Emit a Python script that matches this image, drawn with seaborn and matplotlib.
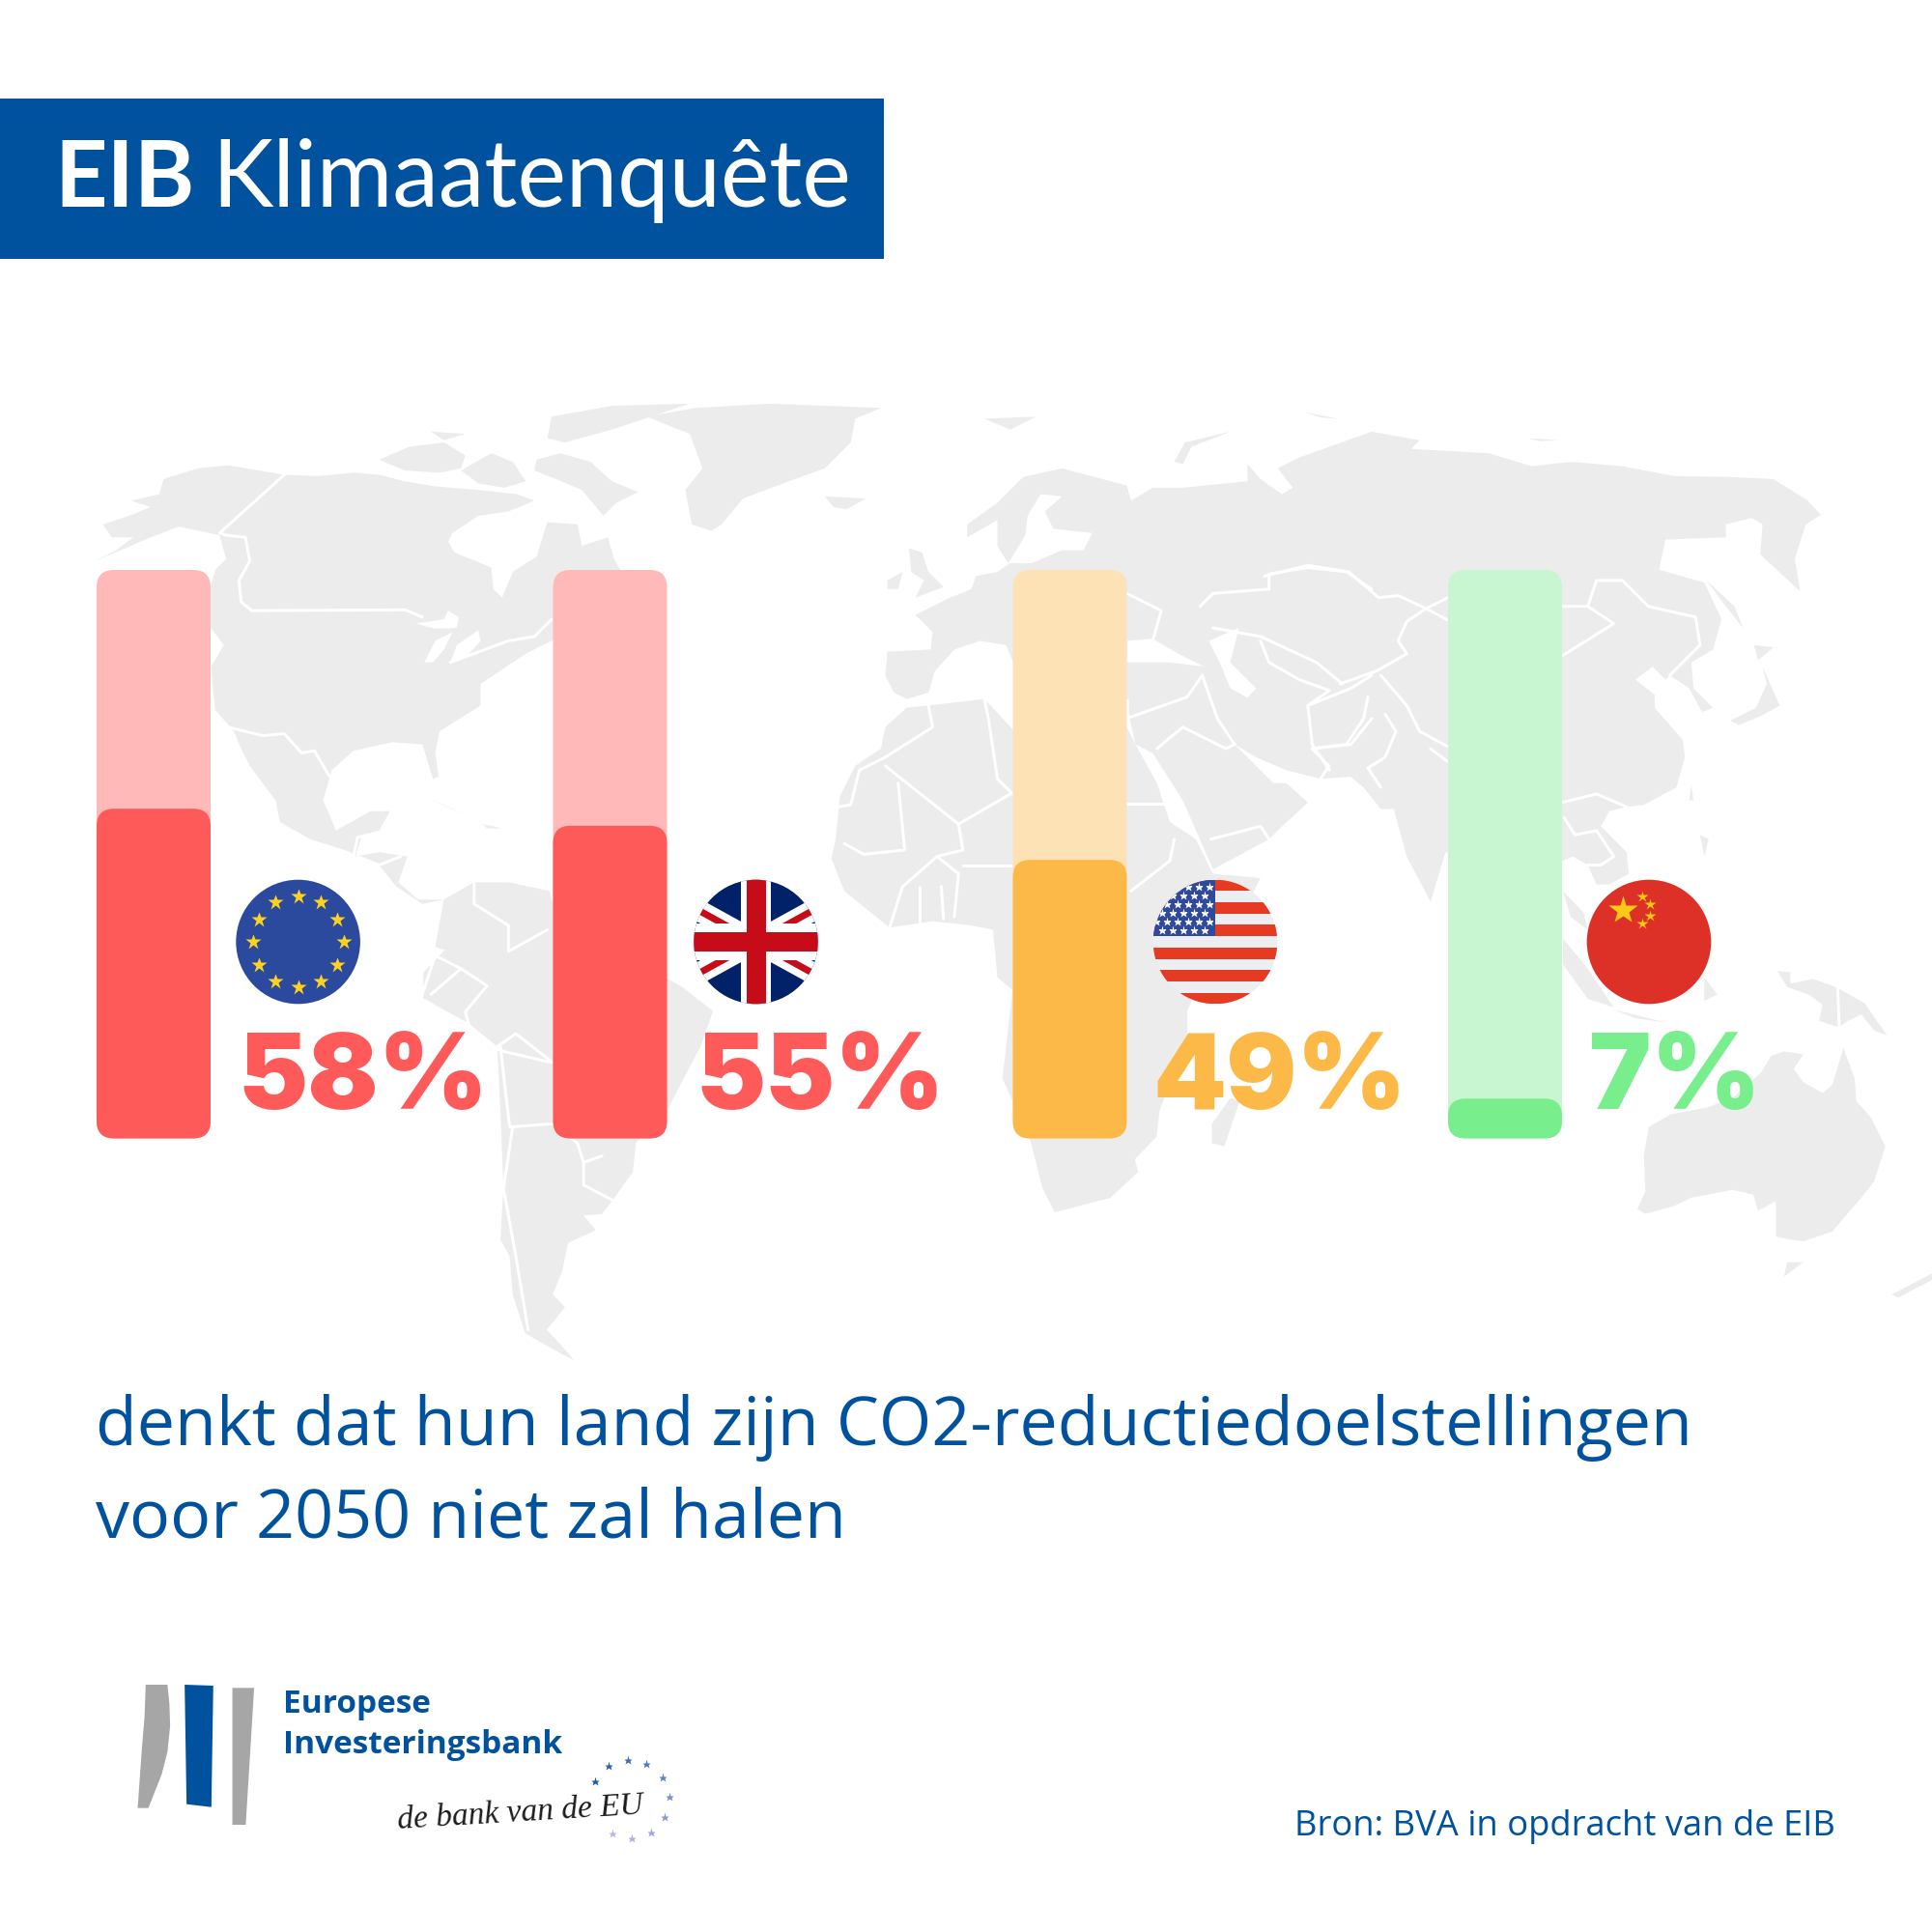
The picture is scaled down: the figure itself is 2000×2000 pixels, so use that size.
import numpy as np
import matplotlib
matplotlib.use('Agg')
import matplotlib.pyplot as plt
from matplotlib.patches import Circle, FancyBboxPatch, Polygon, Rectangle
import seaborn as sns

# Data
countries = ['EU', 'VK', 'VS', 'China']
values = [58, 55, 49, 7]
track = [100, 100, 100, 100]
value_colors = ['#ff5a5a', '#ff5a5a', '#fdb947', '#78ee8c']
track_colors = ['#ffb9b9', '#ffb9b9', '#fde2b6', '#c7f6d0']

title_bold = 'EIB'
title_rest = 'Klimaatenquête'
caption = ['denkt dat hun land zijn CO2-reductiedoelstellingen', 'voor 2050 niet zal halen']
source = 'Bron: BVA in opdracht van de EIB'

BLUE = '#00519e'
LAND = '#ececec'

# layout in pixels of the 2000x2000 image
bar_left = [100, 572.5, 1048.5, 1499]
bar_width = 118
bar_top, bar_bottom = 590, 1178.5
label_left = [247, 720, 1194, 1645]
flag_x = [308.6, 782.5, 1258, 1707]
flag_y = 975
flag_r = 64.3


def crop(pts, x0, y0, sx, sy=None):
    sy = sy or sx
    return [(x0 + x / sx, y0 + y / sy) for x, y in pts]

def z5(pts):
    return crop(pts, 80, 400, 2.24)

def z6(pts):
    return crop(pts, 720, 400, 2.24)

def z7(pts):
    return crop(pts, 1300, 400, 2.24)

def z8(pts):
    return crop(pts, 400, 950, 1.568, 3)

def z9(pts):
    return crop(pts, 1500, 950, 3)


north_america = z5([(40, 405), (100, 380), (170, 350), (235, 325), (330, 345), (345, 400), (320, 425), (300, 500),
                    (310, 560), (340, 600), (310, 650), (320, 755), (355, 790), (400, 880), (460, 960), (470, 1010),
                    (540, 1050), (620, 1075), (700, 1110), (740, 1160), (800, 1200), (850, 1190), (790, 1190),
                    (745, 1150), (765, 1090), (700, 1080), (645, 1090), (660, 1040), (700, 1030), (725, 985),
                    (680, 985), (600, 1030), (570, 960), (590, 890), (640, 845), (730, 825), (800, 830), (825, 910),
                    (838, 905), (830, 850), (840, 800), (935, 740), (935, 690), (980, 660), (1040, 620), (1100, 590),
                    (1200, 600), (1300, 500), (1245, 400), (1230, 350), (1170, 370), (1160, 320), (1090, 315),
                    (1065, 395), (1010, 430), (985, 490), (965, 470), (960, 420), (875, 385), (860, 360), (870, 340),
                    (930, 300), (1000, 290), (1060, 265), (1020, 250), (930, 240), (830, 232), (760, 220), (700, 205),
                    (640, 200), (560, 208), (480, 205), (350, 183), (280, 190), (200, 215), (190, 250), (125, 265),
                    (170, 280), (120, 300), (60, 320), (80, 350), (130, 350), (90, 380)])

greenland = z5([(1320, 70), (1420, 110), (1450, 190), (1410, 240), (1425, 320), (1470, 335)]) + \
    z6([(60, 320), (110, 260), (230, 215), (300, 190), (360, 130), (370, 75), (430, 50), (170, 40), (0, 50)])

eurasia = z6([(445, 615), (545, 610), (550, 570), (510, 530), (590, 490), (640, 470), (650, 440), (700, 430),
              (730, 410), (780, 410), (850, 380), (900, 380), (920, 340), (830, 330), (810, 290), (850, 255),
              (800, 250), (770, 300), (765, 345), (725, 410), (700, 370), (700, 310), (630, 350), (630, 320),
              (700, 270), (760, 210), (850, 190), (1000, 230), (1010, 265), (1060, 235), (1130, 235), (1280, 220),
              (1280, 180), (1310, 215), (1360, 250), (1385, 235), (1350, 190), (1400, 165), (1470, 140),
              (1568, 105)]) + \
    z7([(380, 125), (360, 145), (540, 155), (640, 185), (730, 175), (850, 185), (970, 208), (1100, 210), (1200, 215),
        (1280, 265), (1310, 298), (1275, 320), (1250, 400), (1262, 475), (1170, 390), (1175, 320), (1150, 305),
        (1090, 320), (1090, 350), (950, 355), (935, 425), (1040, 455), (1080, 540), (1060, 610), (1010, 640),
        (1015, 700), (1060, 745), (1035, 755), (1005, 700), (960, 670), (950, 680), (920, 650), (880, 680),
        (925, 715), (925, 745), (990, 820), (995, 860), (975, 930), (900, 970), (860, 975), (820, 985), (800, 1020),
        (860, 1080), (865, 1130), (820, 1155), (790, 1155), (770, 1110), (735, 1090), (712, 1100), (600, 1100),
        (440, 1080), (405, 1195), (350, 1090), (320, 980), (290, 980), (250, 930), (220, 905), (150, 910)]) + \
    z6([(1370, 890), (1300, 860), (1250, 830), (1300, 880), (1340, 920), (1370, 920), (1420, 965), (1360, 1020),
        (1330, 1050), (1200, 1120), (1130, 960), (1060, 850), (1020, 830), (1005, 760), (1005, 725), (900, 720),
        (737, 640), (720, 600), (660, 590), (600, 610), (555, 660), (540, 710), (490, 725), (460, 710), (440, 670)])

africa = z6([(490, 745), (540, 740), (670, 725), (740, 800), (1000, 790), (1020, 830), (1070, 920), (1100, 1010),
             (1160, 1050), (1200, 1130), (1310, 1140), (1270, 1220), (1190, 1330)]) + \
    z8([(1300, 290), (1300, 370), (1255, 600), (1250, 680), (1215, 750), (1220, 790), (1175, 870), (1085, 915),
        (1065, 840), (1045, 690), (1000, 500)]) + \
    z6([(735, 1400), (700, 1370), (690, 1260), (640, 1250), (550, 1240), (450, 1255), (345, 1170), (315, 1095),
        (325, 1050), (335, 950), (370, 880), (430, 840), (440, 790)])

south_america = z5([(830, 1300), (850, 1190), (920, 1150), (1000, 1150), (1095, 1170), (1110, 1230)]) + \
    z8([(480, 215), (530, 290), (510, 400), (455, 600), (405, 700), (400, 790), (370, 870), (350, 920), (320, 925),
        (340, 970), (295, 1010), (285, 1100), (270, 1170), (290, 1210), (260, 1280), (280, 1320), (305, 1375),
        (270, 1340), (225, 1290), (205, 1170), (200, 1050), (185, 1000), (190, 840), (185, 600), (180, 400),
        (135, 330), (60, 250), (60, 170), (95, 100)])

australia = z9([(970, 480), (1000, 430), (1040, 415), (1100, 425), (1070, 470), (1100, 510), (1160, 545), (1190, 520),
                (1225, 405), (1260, 500), (1265, 570), (1310, 620), (1355, 710), (1320, 820), (1280, 870), (1190, 975),
                (1100, 1005), (1060, 1000), (1015, 990), (1015, 880), (960, 910), (945, 860), (880, 845), (750, 870),
                (700, 895), (610, 920), (585, 905), (610, 850), (605, 740), (620, 650), (690, 610), (800, 590),
                (880, 560)])

islands = [
    z5([(1065, 170), (1120, 155), (1190, 175), (1240, 220), (1300, 245), (1250, 270), (1220, 300), (1170, 240),
        (1110, 215), (1060, 195)]),
    z5([(700, 170), (770, 140), (850, 130), (900, 160), (890, 190), (840, 200), (760, 195)]),
    z5([(890, 195), (960, 155), (1010, 175), (1040, 220), (990, 235), (930, 225)]),
    z5([(1100, 70), (1240, 45), (1420, 40), (1330, 70), (1240, 100), (1130, 130), (1090, 120)]),
    z5([(820, 105), (900, 110), (850, 125)]),
    z5([(815, 955), (900, 995), (850, 970)]),
    z5([(940, 1015), (985, 1025), (950, 1025)]),
    z6([(300, 255), (395, 260), (350, 285), (320, 280)]),
    z6([(495, 375), (525, 385), (540, 430), (575, 465), (510, 490), (530, 450), (500, 430)]),
    z6([(445, 450), (480, 430), (470, 470), (445, 470)]),
    z6([(1110, 175), (1135, 130), (1240, 105), (1150, 140), (1130, 180)]),
    z6([(670, 75), (790, 70), (730, 100)]),
    z7([(115, 60), (190, 75), (150, 72)]),
    z7([(630, 120), (700, 125), (660, 127)]),
    z7([(1100, 775), (1160, 745), (1185, 690), (1175, 650), (1215, 740), (1170, 765), (1120, 785)]),
    z7([(1155, 600), (1200, 605), (1165, 635)]),
    z7([(1045, 450), (1110, 510), (1130, 560), (1090, 510)]),
    z7([(1010, 925), (1015, 960), (1005, 960)]),
    z7([(1030, 1040), (1050, 1050), (1040, 1090)]),
    z7([(712, 1170), (760, 1220), (770, 1260), (730, 1230)]),
    z7([(712, 1280), (770, 1350), (830, 1440), (770, 1420), (712, 1340)]),
    z7([(830, 1445), (950, 1475), (880, 1465)]),
    z7([(1040, 1370), (1070, 1410), (1040, 1425)]),
    z9([(1020, 165), (1060, 170), (1060, 205), (1130, 190), (1200, 215), (1290, 265), (1360, 365), (1320, 350),
        (1280, 300), (1240, 320), (1210, 340), (1150, 320), (1160, 270), (1120, 240), (1050, 215)]),
    z9([(1050, 1070), (1100, 1070), (1040, 1115)]),
    z9([(1375, 1170), (1500, 1105), (1500, 1125), (1395, 1180)]),
    z8([(1370, 560), (1385, 570), (1360, 710), (1340, 700), (1340, 640)]),
]

inland_seas = [
    z5([(860, 520), (885, 535), (880, 560), (830, 562), (785, 550), (850, 540)]),
    z5([(805, 640), (830, 590), (870, 570), (850, 610), (825, 640)]),
    z5([(865, 640), (880, 600), (930, 565), (935, 590), (900, 630)]),
    z6([(1000, 590), (1060, 585), (1120, 620), (1180, 650), (1100, 640), (1000, 640)]),
    z6([(1190, 590), (1260, 560), (1240, 640), (1300, 700), (1280, 722), (1240, 700), (1220, 650)]),
]

borders = [
    z5([(480, 205), (330, 340), (345, 345), (390, 350), (400, 405), (375, 450), (380, 500), (405, 520), (760, 518),
        (800, 535)]),
    z5([(865, 640), (1000, 590), (1060, 580), (1100, 540)]),
    z5([(320, 755), (350, 790), (390, 800), (430, 810), (480, 805), (520, 850), (550, 845), (585, 905)]),
    z5([(360, 800), (395, 890), (410, 950)]),
    z5([(640, 1090), (650, 1045), (690, 1040)]),
    z5([(650, 1090), (700, 1110), (750, 1090)]),
    z5([(920, 1150), (920, 1200), (1000, 1250), (1000, 1310), (1090, 1260)]),
    z5([(830, 1320), (890, 1350), (950, 1390), (900, 1450), (910, 1490), (980, 1540), (1100, 1568)]),
    z5([(830, 1320), (800, 1410)]),
    z5([(890, 1350), (820, 1410)]),
    z8([(180, 400), (210, 360), (270, 450)]),
    z8([(185, 400), (200, 650), (270, 640), (310, 700), (320, 760), (350, 740)]),
    z8([(205, 650), (190, 840), (210, 1050), (230, 1280)]),
    z8([(320, 760), (320, 830), (370, 880)]),
    z6([(440, 880), (610, 1015), (730, 945)]),
    z6([(470, 920), (485, 1075), (390, 1085), (345, 1060)]),
    z6([(610, 1015), (620, 1075), (560, 1090), (480, 1160), (450, 1255)]),
    z6([(560, 1090), (610, 1130), (600, 1230)]),
    z6([(540, 740), (550, 790), (440, 860), (380, 890), (360, 970), (330, 975)]),
    z6([(670, 725), (680, 775), (700, 910), (735, 945)]),
    z6([(620, 1110), (735, 1110)]),
    z6([(520, 1160), (520, 1250)]),
    z6([(570, 1160), (575, 1235)]),
    z6([(1000, 968), (1090, 968)]),
    z6([(1110, 1050), (1100, 1100), (1010, 1170)]),
    z6([(1070, 840), (1130, 790), (1230, 840), (1250, 830)]),
    z6([(1175, 670), (1210, 770), (1250, 830)]),
    z6([(1000, 770), (1140, 720), (1175, 670)]),
    z6([(1330, 1050), (1310, 1020), (1195, 1050)]),
    z6([(1000, 480), (1080, 520), (1060, 590)]),
    z6([(1170, 510), (1200, 480), (1330, 470), (1330, 435), (1420, 420), (1510, 430), (1568, 470)]),
    z6([(1200, 560), (1310, 580), (1440, 640), (1500, 690)]),
    z6([(1310, 590), (1330, 640), (1400, 680), (1470, 705), (1420, 740), (1430, 830), (1470, 890)]),
    z6([(1420, 740), (1520, 700), (1568, 670)]),
    z6([(1430, 840), (1520, 830), (1568, 770)]),
    z7([(20, 440), (120, 415), (215, 430), (285, 490), (330, 485), (395, 515), (350, 545), (330, 590), (350, 620),
        (280, 660), (195, 690)]),
    z7([(395, 515), (445, 490)]),
    z7([(395, 515), (445, 542)]),
    z7([(290, 670), (350, 740), (380, 800), (445, 835)]),
    z7([(150, 910), (170, 880), (130, 840), (210, 830), (250, 770), (260, 720)]),
    z7([(300, 760), (325, 800), (300, 860), (260, 885), (290, 930)]),
    z7([(405, 840), (445, 870)]),
    z7([(710, 510), (770, 510), (790, 450), (850, 450), (910, 510), (1020, 535), (1030, 600), (1010, 620)]),
    z7([(710, 625), (750, 600), (830, 550), (770, 510)]),
    z7([(1010, 620), (960, 670)]),
    z7([(710, 965), (790, 945), (860, 975)]),
    z7([(715, 1000), (740, 1040), (790, 1030), (830, 1090), (800, 1110), (770, 1110)]),
    z9([(1207, 215), (1212, 340)]),
]

logo_left = crop([(78, 72), (135, 72), (140, 130), (142, 200), (135, 280), (120, 350), (100, 410), (85, 455), (57, 455),
                  (62, 370), (68, 270), (75, 170)], 120, 1720, 2.53, 3)
logo_mid = crop([(180, 72), (255, 75), (250, 452), (185, 443)], 120, 1720, 2.53, 3)
logo_right = crop([(305, 82), (362, 82), (340, 507), (305, 507)], 120, 1720, 2.53, 3)
logo_stars = crop([(1255, 372), (1290, 325), (1340, 305), (1390, 318), (1432, 360), (1450, 420), (1438, 483),
                   (1402, 530), (1352, 548), (1300, 535)], 120, 1720, 2.53, 3)
logo_star_colors = ['#1b5aa8', '#2a62ad', '#3a6cb2', '#4b78b8', '#5f82c0', '#7a8ecb', '#8c98d0', '#9ea4d6', '#adb0dc',
                    '#b8bae0']

sns.set_theme(style='white')
plt.rcParams['font.family'] = ['Open Sans', 'DejaVu Sans']

fig = plt.figure(figsize=(10, 10), dpi=200, facecolor='white')
canvas = fig.add_axes([0, 0, 1, 1])
canvas.set_xlim(0, 2000)
canvas.set_ylim(2000, 0)
canvas.axis('off')


def px(v):
    # pixels to points at this dpi
    return v * 72 / fig.dpi


# background map
for shape in [north_america, greenland, eurasia, africa, south_america, australia] + islands:
    canvas.add_patch(Polygon(shape, closed=True, fc=LAND, ec='none', zorder=1))
for shape in inland_seas:
    canvas.add_patch(Polygon(shape, closed=True, fc='white', ec='none', zorder=2))
for line in borders:
    xs, ys = zip(*line)
    canvas.plot(xs, ys, color='white', lw=px(3), solid_joinstyle='round', zorder=3)

# banner
canvas.add_patch(Rectangle((0, 102), 914.5, 166, fc=BLUE, ec='none', zorder=4))
canvas.text(56, 214, title_bold, color='white', fontsize=34.2, family='Lato', fontweight='bold', va='baseline', zorder=5)
canvas.text(219, 214, title_rest, color='white', fontsize=34.4, family='Lato', va='baseline', zorder=5)


# the bars, one small axes per country so that the value scale is 0-100 on each
def round_bars(ax, radius=18):
    # swap the square bars seaborn drew for rounded ones with the same geometry
    w_px = ax.get_position().width * fig.bbox.width
    h_px = ax.get_position().height * fig.bbox.height
    unit_x = (ax.get_xlim()[1] - ax.get_xlim()[0]) / w_px
    unit_y = (ax.get_ylim()[1] - ax.get_ylim()[0]) / h_px
    for bar in list(ax.patches):
        x, y, w, h = bar.get_x(), bar.get_y(), bar.get_width(), bar.get_height()
        color = bar.get_facecolor()
        bar.remove()
        ax.add_patch(FancyBboxPatch((x, y), w, h, boxstyle=f'round,pad=0,rounding_size={radius * unit_x}',
                                    mutation_aspect=unit_y / unit_x, fc=color, ec='none', clip_on=False))


for i, country in enumerate(countries):
    ax = fig.add_axes([bar_left[i] / 2000, 1 - bar_bottom / 2000, bar_width / 2000, (bar_bottom - bar_top) / 2000])
    sns.barplot(x=[country], y=[track[i]], color=track_colors[i], saturation=1, width=1, ax=ax)
    sns.barplot(x=[country], y=[values[i]], color=value_colors[i], saturation=1, width=1, ax=ax)
    ax.set_xlim(-0.5, 0.5)
    ax.set_ylim(0, 100)
    ax.axis('off')
    round_bars(ax)
    canvas.text(label_left[i], 1148, f'{values[i]}%', color=value_colors[i], fontsize=39, family='Inter',
                fontweight=900, va='baseline', zorder=6)


# flags
def flag_circle(i, color):
    c = Circle((flag_x[i], flag_y), flag_r, fc=color, ec='none', zorder=6)
    canvas.add_patch(c)
    return c


def stars(xs, ys, size, color, clip=None):
    line, = canvas.plot(xs, ys, ls='none', marker='*', ms=size, mfc=color, mec='none', zorder=8)
    if clip is not None:
        line.set_clip_path(clip)


# EU
flag_circle(0, '#2b4a9e')
angles = np.deg2rad(np.arange(0, 360, 30))
stars(flag_x[0] + 47 * np.sin(angles), flag_y - 47 * np.cos(angles), 6, '#ffd21f')

# UK
uk_x = flag_x[1]
clip = flag_circle(1, '#012169')
for sign in [0.55, -0.55]:
    for width, color in [(22, 'white'), (7, '#c60c18')]:
        line, = canvas.plot([uk_x - 90, uk_x + 90], [flag_y - 90 * sign, flag_y + 90 * sign], color=color, lw=px(width),
                            solid_capstyle='butt', zorder=7)
        line.set_clip_path(clip)
for (dx, dy, w, h), color in [((-15.5, -70, 31, 140), 'white'), ((-70, -19, 140, 38), 'white'),
                              ((-10, -70, 20, 140), '#c60c18'), ((-70, -10, 140, 20), '#c60c18')]:
    rect = Rectangle((uk_x + dx, flag_y + dy), w, h, fc=color, ec='none', zorder=7)
    canvas.add_patch(rect)
    rect.set_clip_path(clip)

# US
us_x = flag_x[2]
clip = flag_circle(2, '#eceef1')
stripe = 2 * flag_r / 11
for k in range(0, 11, 2):
    rect = Rectangle((us_x - 70, flag_y - flag_r + k * stripe), 140, stripe, fc='#e63a23', ec='none', zorder=7)
    canvas.add_patch(rect)
    rect.set_clip_path(clip)
rect = Rectangle((us_x - 70, flag_y - flag_r), 70, 5 * stripe, fc='#2f4a9c', ec='none', zorder=7)
canvas.add_patch(rect)
rect.set_clip_path(clip)
for row in range(6):
    shift = 0 if row % 2 == 0 else 5.5
    xs = np.arange(us_x - 61 + shift, us_x - 2, 11)
    stars(xs, np.full(len(xs), flag_y - flag_r + 7 + row * 9), 3.4, 'white', clip)

# China
cn_x = flag_x[3]
flag_circle(3, '#dd3127')
stars([cn_x - 27], [flag_y - 33], 11, '#fcc916')
stars([cn_x - 7, cn_x + 1, cn_x + 1, cn_x - 7], [flag_y - 47, flag_y - 39, flag_y - 27, flag_y - 19], 4.4, '#fcc916')

# caption and source
for text, y in zip(caption, [1496, 1592]):
    canvas.text(99, y, text, color=BLUE, fontsize=25.2, va='baseline', zorder=5)
canvas.text(1900, 1900, source, color=BLUE, fontsize=13.1, ha='right', va='baseline', zorder=5)

# logo
canvas.add_patch(Polygon(logo_left, closed=True, fc='#a6a6a6', ec='none', zorder=5))
canvas.add_patch(Polygon(logo_mid, closed=True, fc=BLUE, ec='none', zorder=5))
canvas.add_patch(Polygon(logo_right, closed=True, fc='#a6a6a6', ec='none', zorder=5))
canvas.text(293, 1773, 'Europese', color=BLUE, fontsize=12, fontweight='bold', va='baseline', zorder=5)
canvas.text(293, 1815, 'Investeringsbank', color=BLUE, fontsize=12, fontweight='bold', va='baseline', zorder=5)
canvas.text(412, 1893, 'de bank van de EU', color='#1c1c1c', fontsize=12, family='Liberation Serif', style='italic',
            rotation=3.5, rotation_mode='anchor', va='baseline', zorder=5)
for (sx, sy), col in zip(logo_stars, logo_star_colors):
    stars([sx], [sy], 3.4, col)

fig.savefig('out.png', dpi=200, facecolor='white')
